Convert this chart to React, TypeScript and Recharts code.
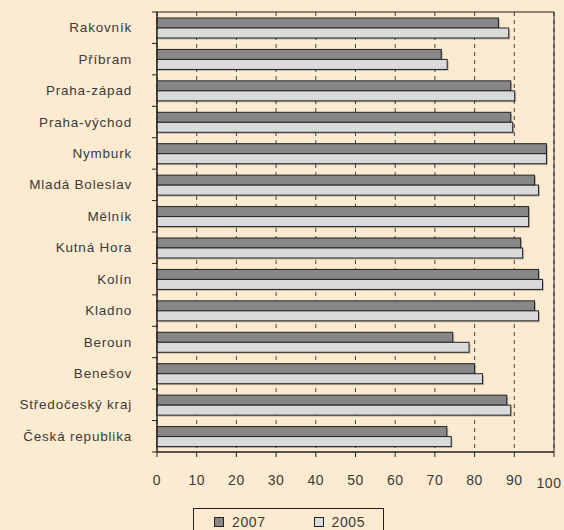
import { BarChart, Bar, XAxis, YAxis, CartesianGrid, Legend, ReferenceArea } from "recharts"

const categories = [
  "Rakovník",
  "Příbram",
  "Praha-západ",
  "Praha-východ",
  "Nymburk",
  "Mladá Boleslav",
  "Mělník",
  "Kutná Hora",
  "Kolín",
  "Kladno",
  "Beroun",
  "Benešov",
  "Středočeský kraj",
  "Česká republika",
]
const values2007 = [86.0, 71.6, 89.1, 89.1, 98.1, 95.1, 93.6, 91.6, 96.1, 95.1, 74.5, 80.0, 88.1, 73.0]
const values2005 = [88.6, 73.1, 90.1, 89.6, 98.1, 96.1, 93.6, 92.1, 97.1, 96.1, 78.6, 82.0, 89.1, 74.1]
const xTicks = [0, 10, 20, 30, 40, 50, 60, 70, 80, 90, 100]

const data = categories.map((name, i) => ({ name, y2007: values2007[i], y2005: values2005[i] }))

const BG = "#FDEBD1"
const INK = "#222"
const TEXT = "#3a3a3a"
const DARK = "#878787"
const LIGHT = "#D9DADB"
const FONT = "'Liberation Sans', Arial, sans-serif"

function ShadowBar(props: any) {
  const { x, y, width, height, fill } = props
  if (!width || width <= 0) return null
  return (
    <g>
      <rect x={x + 1.5} y={y + 1.5} width={width} height={height} fill="#000" opacity={0.22} />
      <rect x={x} y={y} width={width} height={height} fill={fill} stroke={INK} strokeWidth={1} />
    </g>
  )
}

function CategoryTick(props: any) {
  const { x, y, payload, index } = props
  const half = payload && payload.offset ? payload.offset : 15.7
  const last = index === categories.length - 1
  return (
    <g>
      <line x1={x - 5} x2={x} y1={y - half} y2={y - half} stroke={INK} />
      {last && <line x1={x - 5} x2={x} y1={y + half} y2={y + half} stroke={INK} />}
      <text x={x - 25} y={y} dy={4.5} textAnchor="end" fill={TEXT} fontSize={13.5} letterSpacing={0.8} fontFamily={FONT}>
        {payload.value}
      </text>
    </g>
  )
}

function ValueTick(props: any) {
  const { x, y, payload } = props
  const isLast = payload.value === 100
  return (
    <text
      x={isLast ? x - 5 : x}
      y={y}
      dy={isLast ? 12 : 9}
      textAnchor="middle"
      fill={TEXT}
      fontSize={14}
      letterSpacing={0.5}
      fontFamily={FONT}
    >
      {payload.value}
    </text>
  )
}

function LegendBox() {
  const item = (fill: string, label: string) => (
    <span style={{ display: "inline-flex", alignItems: "center", marginRight: 48 }}>
      <span style={{ width: 8, height: 8, background: fill, border: `1px solid ${INK}`, marginRight: 8 }} />
      <span>{label}</span>
    </span>
  )
  return (
    <div style={{ position: "relative", height: 38 }}>
      <div
        style={{
          position: "absolute",
          left: 193,
          top: 16,
          width: 191,
          height: 27,
          border: `1px solid ${INK}`,
          boxSizing: "border-box",
          display: "flex",
          alignItems: "center",
          paddingLeft: 20,
          fontFamily: FONT,
          fontSize: 14,
          lineHeight: "16px",
          letterSpacing: 0.6,
          color: TEXT,
        }}
      >
        {item(DARK, "2007")}
        {item(LIGHT, "2005")}
      </div>
    </div>
  )
}

export default function App() {
  return (
    <div style={{ width: 564, height: 530, background: BG, overflow: "hidden" }}>
      <style>{`body{margin:0}`}</style>
      <BarChart
        width={564}
        height={530}
        data={data}
        layout="vertical"
        margin={{ top: 12, right: 10, left: 0, bottom: 0 }}
        barGap={0}
      >
        <CartesianGrid horizontal={false} stroke="#444" strokeDasharray="4 4" />
        <XAxis
          type="number"
          domain={[0, 100]}
          ticks={xTicks}
          interval={0}
          height={40}
          tickSize={5}
          tickMargin={19}
          axisLine={{ stroke: INK }}
          tickLine={{ stroke: INK }}
          tick={<ValueTick />}
        />
        <YAxis
          type="category"
          dataKey="name"
          width={157}
          tickSize={0}
          tickMargin={0}
          tickLine={false}
          axisLine={{ stroke: INK }}
          interval={0}
          tick={<CategoryTick />}
        />
        <ReferenceArea x1={0} x2={100} fill="none" stroke={INK} strokeWidth={1} />
        <Bar dataKey="y2007" name="2007" fill={DARK} barSize={10} shape={<ShadowBar />} isAnimationActive={false} />
        <Bar dataKey="y2005" name="2005" fill={LIGHT} barSize={10} shape={<ShadowBar />} isAnimationActive={false} />
        <Legend verticalAlign="bottom" height={38} wrapperStyle={{ left: 0, width: 564 }} content={() => <LegendBox />} />
      </BarChart>
    </div>
  )
}
